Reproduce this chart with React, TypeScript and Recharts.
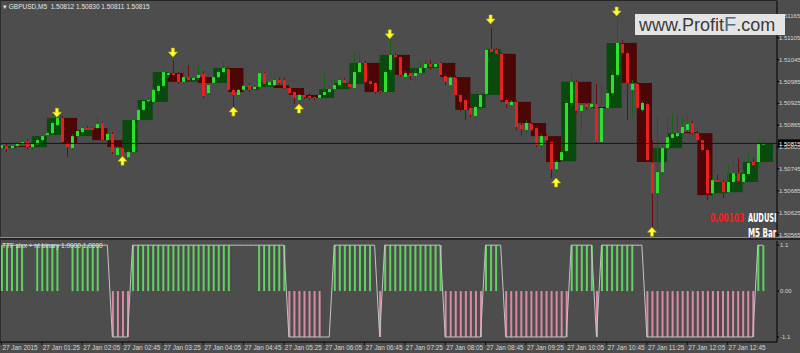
import {
  ComposedChart,
  Bar,
  Line,
  Scatter,
  XAxis,
  YAxis,
  ReferenceArea,
  ReferenceLine,
  Cell,
} from "recharts";

// GBPUSD M5 candles (bar 0 = 00:45)
const OPEN = [
  1.50802, 1.50808, 1.50802, 1.50808, 1.50813, 1.50821, 1.50805, 1.50813, 1.50824, 1.50838,
  1.50843, 1.50865, 1.50885, 1.50816, 1.50802, 1.50835, 1.50846, 1.50857, 1.50857, 1.50857,
  1.50871, 1.50824, 1.50841, 1.50783, 1.50802, 1.50777, 1.50791, 1.50879, 1.50907, 1.50931,
  1.50929, 1.50959, 1.50973, 1.51003, 1.51008, 1.51006, 1.50984, 1.50997, 1.50989, 1.50995,
  1.51006, 1.50953, 1.50981, 1.50997, 1.51011, 1.51019, 1.50962, 1.50948, 1.50962, 1.50975,
  1.50964, 1.5097, 1.51008, 1.50975, 1.50975, 1.50989, 1.50989, 1.50967, 1.50956, 1.50934,
  1.50948, 1.50945, 1.50942, 1.5094, 1.50948, 1.50956, 1.50964, 1.50975, 1.50989, 1.50978,
  1.50967, 1.51011, 1.51036, 1.50986, 1.50981, 1.50959, 1.50956, 1.51017, 1.51058, 1.51052,
  1.50997, 1.51008, 1.51, 1.51008, 1.51022, 1.51033, 1.51025, 1.51036, 1.51, 1.50975,
  1.50995, 1.50948, 1.50934, 1.50912, 1.5089, 1.50915, 1.50951, 1.51074, 1.51072, 1.51061,
  1.50934, 1.5092, 1.50929, 1.50865, 1.50852, 1.50868, 1.50857, 1.5081, 1.50835, 1.50819,
  1.50744, 1.50769, 1.50794, 1.50926, 1.50984, 1.50904, 1.50923, 1.50915, 1.50923, 1.50819,
  1.50912, 1.50953, 1.51003, 1.51088, 1.51063, 1.50962, 1.50978, 1.50907, 1.50923, 1.50761,
  1.50678, 1.50736, 1.50802, 1.5083, 1.50835, 1.50843, 1.50852, 1.50871, 1.50843, 1.50824,
  1.50797, 1.50678, 1.50714, 1.50709, 1.50681, 1.50709, 1.50733, 1.50709, 1.50731, 1.50764,
  1.50764, 1.50812,
];
const HIGH = [
  1.50816, 1.50813, 1.5081, 1.50819, 1.50824, 1.50827, 1.50816, 1.5083, 1.50843, 1.50849,
  1.50876, 1.5089, 1.5089, 1.50821, 1.50841, 1.50854, 1.50863, 1.50863, 1.5086, 1.50893,
  1.50874, 1.50846, 1.50846, 1.50808, 1.50808, 1.50797, 1.50885, 1.50912, 1.5094, 1.50942,
  1.50967, 1.50978, 1.51017, 1.51014, 1.51044, 1.51011, 1.51017, 1.5103, 1.51, 1.51028,
  1.51014, 1.50981, 1.51003, 1.51017, 1.51039, 1.51025, 1.50967, 1.50964, 1.50978, 1.50981,
  1.50975, 1.51014, 1.51011, 1.50986, 1.50995, 1.50995, 1.50995, 1.5097, 1.50959, 1.50951,
  1.50951, 1.50953, 1.50945, 1.50951, 1.51008, 1.50973, 1.50989, 1.51, 1.50995, 1.50984,
  1.51063, 1.51063, 1.51041, 1.50992, 1.50984, 1.50964, 1.51017, 1.51099, 1.51063, 1.51058,
  1.51014, 1.51014, 1.51017, 1.51039, 1.51044, 1.51044, 1.51039, 1.51039, 1.51006, 1.51,
  1.51, 1.50951, 1.5094, 1.50918, 1.5092, 1.50953, 1.51077, 1.51132, 1.51077, 1.51066,
  1.5094, 1.50934, 1.50934, 1.50874, 1.50879, 1.50874, 1.50863, 1.50841, 1.50841, 1.50824,
  1.50769, 1.50797, 1.50934, 1.51008, 1.50989, 1.50926, 1.50929, 1.50929, 1.50978, 1.50978,
  1.50962, 1.51017, 1.5116, 1.51099, 1.51072, 1.50989, 1.50984, 1.50931, 1.50929, 1.50824,
  1.50893, 1.5081, 1.50893, 1.50898, 1.50893, 1.50887, 1.5089, 1.50876, 1.50849, 1.5083,
  1.50802, 1.5072, 1.50728, 1.50714, 1.50755, 1.50769, 1.50775, 1.50742, 1.50791, 1.50775,
  1.50832, 1.5083,
];
const LOW = [
  1.50797, 1.50791, 1.50799, 1.50805, 1.5081, 1.50799, 1.50797, 1.50808, 1.50819, 1.50832,
  1.50838, 1.50863, 1.50816, 1.50777, 1.50797, 1.5083, 1.50838, 1.50849, 1.50849, 1.50854,
  1.50821, 1.50821, 1.50786, 1.5078, 1.50775, 1.50772, 1.50786, 1.50874, 1.50901, 1.50923,
  1.50923, 1.50948, 1.50967, 1.50995, 1.50989, 1.50978, 1.50978, 1.50984, 1.50984, 1.50989,
  1.5094, 1.50948, 1.50975, 1.50992, 1.51008, 1.50959, 1.50915, 1.50942, 1.50959, 1.50956,
  1.50962, 1.50967, 1.50975, 1.5097, 1.50973, 1.50975, 1.50964, 1.50951, 1.50923, 1.5092,
  1.50937, 1.50934, 1.50934, 1.50937, 1.50945, 1.50951, 1.50962, 1.50973, 1.50975, 1.50967,
  1.50964, 1.51008, 1.50978, 1.50967, 1.50951, 1.50951, 1.50953, 1.51011, 1.51047, 1.50997,
  1.50989, 1.50989, 1.50984, 1.51006, 1.51017, 1.51017, 1.51019, 1.50997, 1.50975, 1.5097,
  1.50942, 1.50901, 1.50879, 1.50887, 1.50874, 1.50909, 1.50945, 1.51061, 1.51055, 1.50929,
  1.50912, 1.50915, 1.50852, 1.50838, 1.50843, 1.50846, 1.50805, 1.50802, 1.50819, 1.5072,
  1.50736, 1.50764, 1.50791, 1.50923, 1.50898, 1.50852, 1.50907, 1.50909, 1.50813, 1.50816,
  1.50907, 1.50948, 1.50997, 1.51058, 1.50879, 1.50885, 1.50907, 1.50901, 1.50764, 1.50577,
  1.50582, 1.50728, 1.50797, 1.50824, 1.5083, 1.50838, 1.50846, 1.50838, 1.50819, 1.50791,
  1.50659, 1.50659, 1.507, 1.50665, 1.50676, 1.507, 1.50703, 1.50703, 1.50725, 1.50747,
  1.50747, 1.50811,
];
const CLOSE = [
  1.5081, 1.50799, 1.50808, 1.50813, 1.50819, 1.50805, 1.50813, 1.50824, 1.50835, 1.50843,
  1.50871, 1.50885, 1.50819, 1.50805, 1.50835, 1.50849, 1.50857, 1.50852, 1.50852, 1.50868,
  1.50824, 1.50841, 1.50791, 1.50802, 1.5078, 1.50791, 1.50879, 1.50907, 1.50931, 1.50934,
  1.50962, 1.50973, 1.51011, 1.51008, 1.51003, 1.50984, 1.50997, 1.50989, 1.50995, 1.51003,
  1.50945, 1.50975, 1.50997, 1.51011, 1.51022, 1.50962, 1.50948, 1.50962, 1.50973, 1.50962,
  1.5097, 1.51008, 1.50978, 1.50984, 1.50989, 1.50981, 1.50967, 1.50953, 1.5094, 1.50948,
  1.50942, 1.5094, 1.5094, 1.50948, 1.50956, 1.50964, 1.50975, 1.50989, 1.50981, 1.5097,
  1.51011, 1.51036, 1.50984, 1.50978, 1.50956, 1.50956, 1.51011, 1.51058, 1.51052, 1.51003,
  1.51008, 1.51, 1.51008, 1.51022, 1.51033, 1.51025, 1.51033, 1.51003, 1.50984, 1.50995,
  1.50948, 1.50929, 1.50907, 1.50893, 1.50915, 1.50948, 1.51072, 1.51066, 1.51061, 1.50934,
  1.50923, 1.50929, 1.5086, 1.50854, 1.50871, 1.50852, 1.5081, 1.50835, 1.50824, 1.50744,
  1.50764, 1.50791, 1.50926, 1.50984, 1.50904, 1.5092, 1.50915, 1.50923, 1.50819, 1.50912,
  1.50953, 1.51003, 1.51091, 1.51063, 1.50981, 1.50978, 1.50912, 1.50926, 1.50769, 1.50678,
  1.50736, 1.50802, 1.50832, 1.50841, 1.50843, 1.5086, 1.50868, 1.50843, 1.50824, 1.50797,
  1.50678, 1.50714, 1.50709, 1.50681, 1.50709, 1.50733, 1.50711, 1.50731, 1.50761, 1.50755,
  1.50813, 1.50815,
];

// M15 candle bodies drawn behind the M5 bars (one per 3 bars)
const BOX_OPEN = [
  1.50802, 1.50808, 1.50805, 1.50838, 1.50885, 1.50835, 1.50857, 1.50824, 1.50791, 1.50879,
  1.50929, 1.51008, 1.50984, 1.50997, 1.50981, 1.51022, 1.50962, 1.5097, 1.50975, 1.50967,
  1.50948, 1.5094, 1.50964, 1.50978, 1.51036, 1.50956, 1.51058, 1.51008, 1.51022, 1.51036,
  1.50997, 1.50912, 1.50948, 1.51061, 1.50929, 1.50871, 1.50835, 1.50766, 1.50984, 1.50915,
  1.50912, 1.51091, 1.50981, 1.50764, 1.50802, 1.50846, 1.50843, 1.50678, 1.50681, 1.50709,
  1.50764,
];
const BOX_CLOSE = [
  1.50808, 1.50805, 1.50835, 1.50885, 1.50816, 1.50852, 1.50824, 1.50805, 1.50879, 1.50934,
  1.51011, 1.50984, 1.50995, 1.50981, 1.51022, 1.50956, 1.5097, 1.50984, 1.50967, 1.50948,
  1.5094, 1.50964, 1.50981, 1.51036, 1.50956, 1.51058, 1.51003, 1.51022, 1.51033, 1.50997,
  1.50907, 1.50951, 1.51074, 1.50929, 1.50871, 1.50835, 1.50764, 1.50984, 1.50926, 1.50912,
  1.51091, 1.50981, 1.50764, 1.50802, 1.50843, 1.50843, 1.50673, 1.50709, 1.50733, 1.50764,
  1.50813,
];

// yellow fractal arrows
const DOWN_ARROW_BARS = [11, 34, 77, 97, 122];
const DOWN_ARROW_PRICES = [1.50898, 1.51063, 1.51113, 1.51154, 1.51176];
const UP_ARROW_BARS = [24, 46, 59, 110, 129];
const UP_ARROW_PRICES = [1.50769, 1.50904, 1.50912, 1.50709, 1.50574];

// binary indicator: G/P = bar drawn (up/down), g/p = level only
const SIGNAL_RUNS: [string, number][] = [
  ["G", 5], ["g", 2], ["G", 5], ["g", 2], ["G", 6], ["g", 2], ["P", 4], ["G", 20],
  ["g", 5], ["G", 6], ["P", 7], ["p", 2], ["G", 8], ["g", 1], ["P", 1], ["G", 12],
  ["P", 8], ["G", 3], ["g", 1], ["P", 13], ["G", 5], ["P", 1], ["G", 7], ["g", 2],
  ["P", 22], ["G", 2],
];
const SIGNAL_LEVEL = 1.1;

const PRICE_TICKS = [
  1.50565, 1.50625, 1.50685, 1.50745, 1.50805, 1.50865, 1.50925, 1.50985, 1.51045,
  1.51105, 1.51165,
];
const LAST_PRICE = 1.50815;
const TIME_LABELS = [
  "27 Jan 2015", "27 Jan 01:25", "27 Jan 02:05", "27 Jan 02:45", "27 Jan 03:25",
  "27 Jan 04:05", "27 Jan 04:45", "27 Jan 05:25", "27 Jan 06:05", "27 Jan 06:45",
  "27 Jan 07:25", "27 Jan 08:05", "27 Jan 08:45", "27 Jan 09:25", "27 Jan 10:05",
  "27 Jan 10:45", "27 Jan 11:25", "27 Jan 12:05", "27 Jan 12:45",
];
const BARS_PER_LABEL = 8;

const BG = "#4d4d4d";
const X_DOMAIN: [number, number] = [-0.29, 153.8];
const FONT = "'Liberation Sans', Arial, sans-serif";
const BOLD_FONT = "'Liberation Sans Narrow', 'DejaVu Sans Condensed', sans-serif";

const candles = OPEN.map((open, i) => ({
  i,
  open,
  high: HIGH[i],
  low: LOW[i],
  close: CLOSE[i],
  range: [LOW[i], HIGH[i]],
}));

const downArrows = DOWN_ARROW_BARS.map((i, k) => ({ i, price: DOWN_ARROW_PRICES[k] }));
const upArrows = UP_ARROW_BARS.map((i, k) => ({ i, price: UP_ARROW_PRICES[k] }));

const indicator = SIGNAL_RUNS.flatMap(([kind, n]) => Array(n).fill(kind)).map((kind, i) => {
  const level = kind === "G" || kind === "g" ? SIGNAL_LEVEL : -SIGNAL_LEVEL;
  return { i, sig: level, hist: kind === "G" || kind === "P" ? level : null };
});

const timeTicks = TIME_LABELS.map((_, j) => j * BARS_PER_LABEL);

function Candle(props: any) {
  const { x, y, width, height, payload } = props;
  const { open, close, high, low } = payload;
  const top = Math.min(y, y + height);
  const h = Math.abs(height);
  const py = (v: number) => top + ((high - v) / (high - low)) * h;
  const cx = Math.round(x + width / 2) + 0.5;
  const up = close >= open;
  const b1 = py(Math.max(open, close));
  const b2 = py(Math.min(open, close));
  return (
    <g>
      <line x1={cx} x2={cx} y1={top} y2={top + h} stroke={up ? "#146414" : "#661010"} strokeWidth={1} />
      <rect x={cx - 1.5} y={b1} width={3} height={Math.max(1, b2 - b1)} fill={up ? "#2ee02e" : "#e42222"} />
    </g>
  );
}

function DownArrow({ cx, cy }: any) {
  return (
    <path
      d={`M${cx - 1.5},${cy - 5} h3 v4 h3 l-4.5,5 l-4.5,-5 h3 z`}
      fill="#ffff33"
      stroke="#c8b400"
      strokeWidth={0.6}
    />
  );
}

function UpArrow({ cx, cy }: any) {
  return (
    <path
      d={`M${cx - 1.5},${cy + 5} h3 v-4 h3 l-4.5,-5 l-4.5,5 h3 z`}
      fill="#ffff33"
      stroke="#c8b400"
      strokeWidth={0.6}
    />
  );
}

function PriceTag(props: any) {
  const vb = props.viewBox || {};
  const x = (vb.x ?? 0) + (vb.width ?? 0);
  const y = vb.y ?? 0;
  return (
    <g>
      <rect x={x + 1} y={y - 4} width={23} height={8} fill="#000" />
      <text x={x + 2} y={y + 2.2} fill="#fff" fontSize={6} fontFamily={FONT}>
        {LAST_PRICE.toFixed(5)}
      </text>
    </g>
  );
}

function TimeTick(props: any) {
  const { x, y, payload } = props;
  const label = TIME_LABELS[Math.round(payload.value / BARS_PER_LABEL)];
  return (
    <g>
      <line x1={x} x2={x} y1={y - 2} y2={y + 1} stroke="#111" />
      <text x={x + 1} y={y + 6} fill="#d6d6d6" fontSize={6.4} fontFamily={FONT}>
        {label}
      </text>
    </g>
  );
}

const axisTick = { fill: "#d6d6d6", fontSize: 6, fontFamily: FONT };

function Tag({ left, top, color, scale, children }: any) {
  return (
    <div
      style={{
        position: "absolute",
        left,
        top,
        fontSize: 13,
        fontWeight: "bold",
        fontFamily: BOLD_FONT,
        color,
        whiteSpace: "nowrap",
        transform: `scaleX(${scale})`,
        transformOrigin: "left",
        lineHeight: "14px",
      }}
    >
      {children}
    </div>
  );
}

export default function App() {
  return (
    <div
      style={{
        position: "fixed",
        left: 0,
        top: 0,
        width: 800,
        height: 353,
        background: BG,
        fontFamily: FONT,
        overflow: "hidden",
      }}
    >
      <div style={{ position: "absolute", left: 0, top: 0, width: 800, height: 238 }}>
        <ComposedChart
          width={800}
          height={238}
          data={candles}
          margin={{ top: 1, right: 0, bottom: 1, left: 0 }}
        >
          <XAxis type="number" dataKey="i" domain={X_DOMAIN} allowDataOverflow hide />
          <YAxis
            orientation="right"
            width={23}
            domain={[1.50558, 1.51206]}
            allowDataOverflow
            ticks={PRICE_TICKS}
            interval={0}
            tickFormatter={(v: number) => v.toFixed(5)}
            tick={axisTick}
            tickSize={2}
            tickMargin={0}
            axisLine={{ stroke: "#000" }}
            tickLine={{ stroke: "#000" }}
          />
          {BOX_OPEN.map((open, k) => (
            <ReferenceArea
              key={k}
              x1={k * 3}
              x2={k * 3 + 3}
              y1={open}
              y2={BOX_CLOSE[k]}
              fill={BOX_CLOSE[k] >= open ? "#0b4a0f" : "#4d0606"}
              fillOpacity={1}
              stroke="none"
              ifOverflow="visible"
            />
          ))}
          <ReferenceLine y={LAST_PRICE} stroke="#151515" label={(p: any) => <PriceTag {...p} />} />
          <Bar dataKey="range" barSize={5} shape={<Candle />} isAnimationActive={false} />
          <Scatter data={downArrows} dataKey="price" shape={<DownArrow />} isAnimationActive={false} />
          <Scatter data={upArrows} dataKey="price" shape={<UpArrow />} isAnimationActive={false} />
        </ComposedChart>
      </div>

      <div style={{ position: "absolute", left: 0, top: 0, width: 777, height: 1, background: "#262626" }} />
      <div style={{ position: "absolute", left: 0, top: 0, width: 1, height: 342, background: "#2e2e2e" }} />
      <div style={{ position: "absolute", left: 0, top: 237, width: 800, height: 1, background: "#8a8a8a" }} />
      <div style={{ position: "absolute", left: 0, top: 238, width: 800, height: 2, background: "#262626" }} />

      <div style={{ position: "absolute", left: 0, top: 240, width: 800, height: 113 }}>
        <ComposedChart
          width={800}
          height={113}
          data={indicator}
          margin={{ top: 1, right: 0, bottom: 0, left: 0 }}
        >
          <XAxis
            type="number"
            dataKey="i"
            domain={X_DOMAIN}
            allowDataOverflow
            ticks={timeTicks}
            interval={0}
            height={11}
            tickSize={2}
            tickMargin={0}
            tickLine={false}
            axisLine={{ stroke: "#000" }}
            tick={<TimeTick />}
          />
          <YAxis
            orientation="right"
            width={23}
            domain={[-1.22, 1.2]}
            allowDataOverflow
            ticks={[-1.1, 0, 1.1]}
            interval={0}
            tickFormatter={(v: number) => (v === 0 ? "0.00" : v.toFixed(1))}
            tick={axisTick}
            tickSize={2}
            tickMargin={1}
            axisLine={{ stroke: "#000" }}
            tickLine={{ stroke: "#000" }}
          />
          <Bar dataKey="hist" barSize={2} isAnimationActive={false}>
            {indicator.map((d) => (
              <Cell key={d.i} fill={d.sig > 0 ? "#5fd25f" : "#d98aa6"} />
            ))}
          </Bar>
          <Line
            dataKey="sig"
            type="linear"
            stroke="#c4c4c4"
            strokeWidth={1}
            dot={false}
            isAnimationActive={false}
          />
        </ComposedChart>
      </div>

      <div style={{ position: "absolute", left: 3, top: 3, fontSize: 6.5, color: "#e4e4e4", whiteSpace: "nowrap" }}>
        ▾ GBPUSD,M5&nbsp; 1.50812 1.50830 1.50811 1.50815
      </div>
      <div style={{ position: "absolute", left: 2, top: 242, fontSize: 6.5, color: "#e4e4e4", whiteSpace: "nowrap" }}>
        TTF sixx + nt binary 1.0000 1.0000
      </div>

      <div
        style={{
          position: "absolute",
          left: 635,
          top: 14,
          width: 150,
          height: 21,
          background: "#e4e4e4",
          color: "#3a3a3a",
          fontSize: 18,
          lineHeight: "21px",
          paddingLeft: 4,
          boxSizing: "border-box",
          whiteSpace: "nowrap",
        }}
      >
        www.Profit<span style={{ color: "#4d6f80", fontSize: 20 }}>F</span>.com
      </div>

      <Tag left={710} top={211} color="#ff1a1a" scale={0.64}>0.00103</Tag>
      <Tag left={748} top={211} color="#ffffff" scale={0.57}>AUDUSI</Tag>
      <Tag left={748} top={226} color="#ffffff" scale={0.61}>M5 Bar</Tag>
    </div>
  );
}
